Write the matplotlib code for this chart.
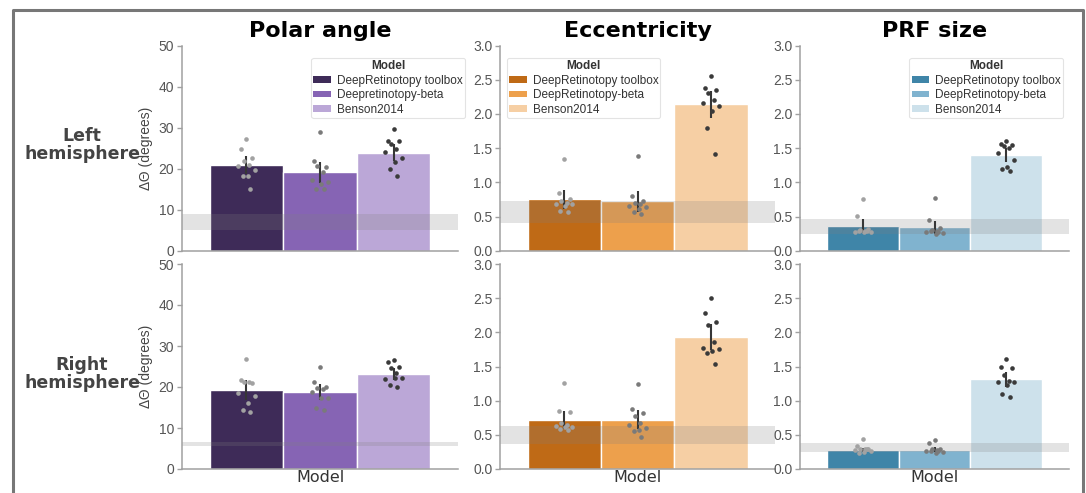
import numpy as np
import matplotlib
matplotlib.use("Agg")
import matplotlib.pyplot as plt
from matplotlib.lines import Line2D
from matplotlib.patches import Patch

# ---------------------------------------------------------------- data
col_titles = ["Polar angle", "Eccentricity", "PRF size"]
row_titles = ["Left\nhemisphere", "Right\nhemisphere"]
polar_models = ["DeepRetinotopy toolbox", "Deepretinotopy-beta", "Benson2014"]
other_models = ["DeepRetinotopy toolbox", "DeepRetinotopy-beta", "Benson2014"]

# mean error per model (bar heights)
polar_left_means = [20.9, 19.1, 23.9]
polar_right_means = [19.2, 18.8, 23.2]
ecc_left_means = [0.75, 0.72, 2.14]
ecc_right_means = [0.72, 0.72, 1.93]
prf_left_means = [0.36, 0.34, 1.40]
prf_right_means = [0.28, 0.28, 1.31]

# per-participant errors
polar_left_points = [
    [27.2, 24.7, 22.6, 21.8, 21.0, 20.6, 19.6, 18.3, 18.2, 15.0],
    [28.9, 21.9, 20.5, 20.6, 19.3, 17.2, 16.8, 16.3, 15.1, 15.0],
    [29.6, 26.8, 26.7, 25.9, 24.7, 24.1, 22.5, 21.7, 19.8, 18.3],
]
polar_right_points = [
    [26.8, 21.8, 21.0, 21.2, 21.1, 18.5, 17.7, 16.1, 14.3, 13.9],
    [24.9, 21.3, 20.0, 19.7, 19.5, 18.9, 17.2, 17.3, 15.0, 14.5],
    [26.7, 26.0, 24.8, 24.6, 23.5, 22.0, 22.2, 22.1, 20.6, 20.1],
]
ecc_left_points = [
    [1.34, 0.84, 0.76, 0.72, 0.70, 0.68, 0.69, 0.65, 0.585, 0.56],
    [1.38, 0.80, 0.72, 0.70, 0.68, 0.66, 0.64, 0.61, 0.57, 0.53],
    [2.55, 2.38, 2.35, 2.30, 2.20, 2.16, 2.12, 2.05, 1.80, 1.42],
]
ecc_right_points = [
    [1.26, 0.85, 0.83, 0.67, 0.65, 0.63, 0.62, 0.61, 0.59, 0.57],
    [1.24, 0.88, 0.82, 0.77, 0.67, 0.65, 0.60, 0.57, 0.55, 0.465],
    [2.50, 2.28, 2.15, 2.11, 1.86, 1.77, 1.76, 1.72, 1.70, 1.53],
]
prf_left_points = [
    [0.76, 0.51, 0.32, 0.30, 0.29, 0.28, 0.27, 0.28, 0.29, 0.295],
    [0.77, 0.45, 0.33, 0.31, 0.29, 0.28, 0.26, 0.25, 0.29, 0.27],
    [1.61, 1.56, 1.54, 1.53, 1.50, 1.43, 1.33, 1.23, 1.19, 1.16],
]
prf_right_points = [
    [0.44, 0.33, 0.30, 0.29, 0.29, 0.28, 0.27, 0.25, 0.24, 0.30],
    [0.42, 0.38, 0.30, 0.29, 0.28, 0.26, 0.25, 0.24, 0.27, 0.26],
    [1.61, 1.49, 1.48, 1.37, 1.29, 1.28, 1.27, 1.23, 1.10, 1.06],
]

# noise-ceiling bands (low, high)
polar_left_band = [5.0, 8.9]
polar_right_band = [5.5, 6.7]
ecc_left_band = [0.40, 0.73]
ecc_right_band = [0.37, 0.63]
prf_left_band = [0.24, 0.46]
prf_right_band = [0.25, 0.38]

polar_ticks = [0, 10, 20, 30, 40, 50]
other_ticks = [0.0, 0.5, 1.0, 1.5, 2.0, 2.5, 3.0]

# ---------------------------------------------------------------- style
polar_colors = ["#3e2b58", "#8664b4", "#bba7d7"]
ecc_colors = ["#bf6a16", "#eda04c", "#f6cfa4"]
prf_colors = ["#3f85a8", "#80b3cf", "#cde1eb"]
point_greys = ["#a2a2a2", "#7a7a7a", "#3a3a3a"]
jitter = np.array([0.0, -0.02, 0.02, -0.01, 0.01, -0.03, 0.03, 0.004, -0.014, 0.014])

tick_font = "Liberation Sans"
head_font = "DejaVu Sans"

panels = [
    [
        (polar_left_means, polar_left_points, polar_left_band, polar_colors, polar_models, polar_ticks, "%d"),
        (ecc_left_means, ecc_left_points, ecc_left_band, ecc_colors, other_models, other_ticks, "%.1f"),
        (prf_left_means, prf_left_points, prf_left_band, prf_colors, other_models, other_ticks, "%.1f"),
    ],
    [
        (polar_right_means, polar_right_points, polar_right_band, polar_colors, polar_models, polar_ticks, "%d"),
        (ecc_right_means, ecc_right_points, ecc_right_band, ecc_colors, other_models, other_ticks, "%.1f"),
        (prf_right_means, prf_right_points, prf_right_band, prf_colors, other_models, other_ticks, "%.1f"),
    ],
]

W, H = 1086, 493
fig = plt.figure(figsize=(W / 100, H / 100), dpi=100)

col_x = [(182, 458), (500, 775), (800, 1069)]
row_y = [(45.6, 250.7), (264, 469)]
legend_anchor = [(1.025, 0.94, "upper right"), (0.025, 0.94, "upper left"), (0.978, 0.94, "upper right")]

bar_w = 0.8 / 3
xpos = np.array([-bar_w, 0.0, bar_w])

for r in range(2):
    for c in range(3):
        means, points, band, colors, labels, ticks, fmt = panels[r][c]
        x0, x1 = col_x[c]
        yt, yb = row_y[r]
        ax = fig.add_axes([x0 / W, 1 - yb / H, (x1 - x0) / W, (yb - yt) / H])

        ax.bar(xpos, means, width=bar_w, color=colors, edgecolor="white",
               linewidth=1.0, zorder=1)
        ax.axhspan(band[0], band[1], color="#808080", alpha=0.22, lw=0, zorder=2)

        for i in range(3):
            pts = np.asarray(points[i], dtype=float)
            half = 1.96 * pts.std(ddof=1) / np.sqrt(len(pts))
            ax.vlines(xpos[i], means[i] - half, means[i] + half,
                      color="#363636", lw=1.5, zorder=3)
            ax.scatter(xpos[i] + jitter[:len(pts)], pts, s=11, color=point_greys[i],
                       linewidths=0, zorder=4)

        ax.set_xlim(-0.5, 0.5)
        ax.set_ylim(ticks[0], ticks[-1])
        ax.set_yticks(ticks)
        ax.set_yticklabels([fmt % t for t in ticks], fontfamily=tick_font)
        ax.set_xticks([])
        for s in ("top", "right"):
            ax.spines[s].set_visible(False)
        for s in ("left", "bottom"):
            ax.spines[s].set_color("#a0a0a0")
            ax.spines[s].set_linewidth(1.1)
        ax.tick_params(axis="y", colors="#a0a0a0", labelcolor="#555555",
                       labelsize=10, length=3.5, width=1.0, pad=2)

        if c == 0:
            ax.set_ylabel("ΔΘ (degrees)", fontfamily=tick_font, fontsize=10,
                          color="#444444", labelpad=4)
        if r == 0:
            ax.set_title(col_titles[c], fontfamily=head_font, fontsize=16,
                         fontweight="bold", color="black", pad=6)
            handles = [Patch(facecolor=colors[i], edgecolor="none", label=labels[i])
                       for i in range(3)]
            ax_, ay_, loc = legend_anchor[c]
            leg = ax.legend(handles=handles, title="Model", loc=loc,
                            bbox_to_anchor=(ax_, ay_), frameon=True,
                            prop={"family": tick_font, "size": 8.5},
                            title_fontproperties={"family": tick_font, "size": 8.5,
                                                  "weight": "bold"},
                            handlelength=1.5, handleheight=0.5, handletextpad=0.5,
                            labelspacing=0.22, borderpad=0.18, borderaxespad=0.0,
                            fancybox=True)
            leg.get_frame().set_edgecolor("#dddddd")
            leg.get_frame().set_linewidth(0.8)
            for t in leg.get_texts():
                t.set_color("#333333")
            leg.get_title().set_color("#333333")
        else:
            ax.set_xlabel("Model", fontfamily=head_font, fontsize=11.5,
                          color="#333333", labelpad=1)

# row headings
fig.text(82 / W, 1 - 145 / H, row_titles[0], ha="center", va="center",
         fontfamily=head_font, fontsize=12.5, fontweight="bold", color="#444444",
         linespacing=1.05)
fig.text(82 / W, 1 - 374 / H, row_titles[1], ha="center", va="center",
         fontfamily=head_font, fontsize=12.5, fontweight="bold", color="#444444",
         linespacing=1.05)

# outer frame (open at the bottom)
fig.add_artist(Line2D([13 / W, 13 / W, 1083 / W, 1083 / W],
                      [-0.1, 1 - 10 / H, 1 - 10 / H, -0.1],
                      color="#777777", lw=2.2, transform=fig.transFigure))

fig.savefig("out.png", dpi=100)
